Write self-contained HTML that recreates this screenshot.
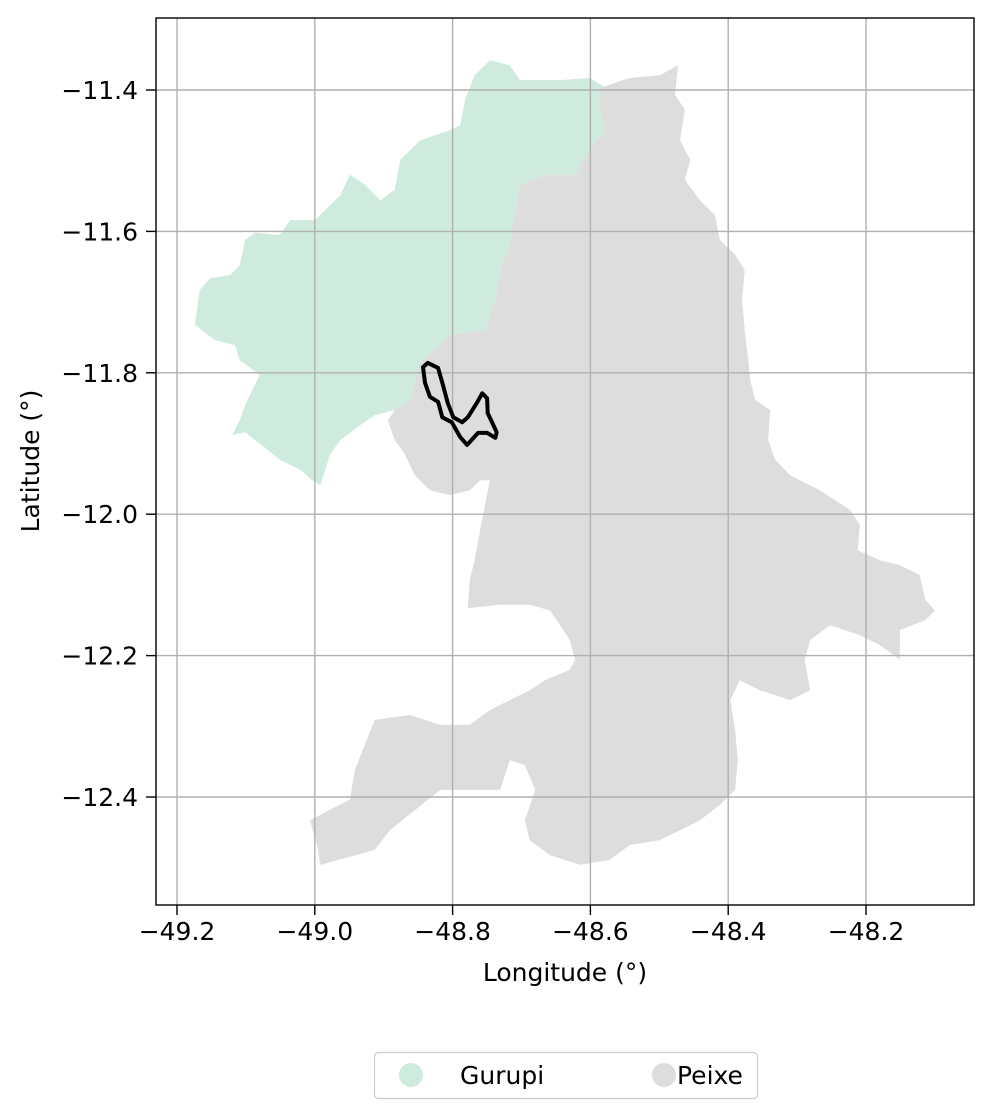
<!DOCTYPE html>
<html><head><meta charset="utf-8"><style>
html,body{margin:0;padding:0;background:#fff;}
svg{display:block;font-family:"DejaVu Sans","Liberation Sans",sans-serif;}
</style></head><body>
<svg id="chart" width="993" height="1119" viewBox="0 0 993 1119" xmlns="http://www.w3.org/2000/svg"></svg>
<script>
const xTicks=[-49.2,-49.0,-48.8,-48.6,-48.4,-48.2];
const yTicks=[-11.4,-11.6,-11.8,-12.0,-12.2,-12.4];
const xTickLabels=["\u221249.2","\u221249.0","\u221248.8","\u221248.6","\u221248.4","\u221248.2"];
const yTickLabels=["\u221211.4","\u221211.6","\u221211.8","\u221212.0","\u221212.2","\u221212.4"];
const regionNames=["Gurupi","Peixe"];
const gurupiLon=[-49.174,-49.167,-49.152,-49.123,-49.109,-49.101,-49.087,-49.051,-49.036,-49.0,-48.963,-48.949,-48.927,-48.905,-48.884,-48.876,-48.847,-48.804,-48.789,-48.782,-48.768,-48.746,-48.717,-48.702,-48.644,-48.601,-48.572,-48.586,-48.579,-48.601,-48.622,-48.666,-48.702,-48.709,-48.717,-48.731,-48.738,-48.753,-48.804,-48.818,-48.847,-48.855,-48.862,-48.884,-48.913,-48.934,-48.963,-48.978,-48.992,-49.004,-49.021,-49.051,-49.072,-49.087,-49.101,-49.120,-49.109,-49.101,-49.087,-49.080,-49.109,-49.116,-49.145];
const gurupiLat=[-11.732,-11.683,-11.666,-11.662,-11.648,-11.612,-11.602,-11.605,-11.584,-11.584,-11.549,-11.520,-11.534,-11.556,-11.541,-11.499,-11.471,-11.457,-11.450,-11.414,-11.379,-11.358,-11.365,-11.386,-11.386,-11.383,-11.400,-11.428,-11.457,-11.485,-11.520,-11.520,-11.534,-11.570,-11.619,-11.655,-11.697,-11.739,-11.747,-11.761,-11.785,-11.810,-11.838,-11.853,-11.860,-11.874,-11.895,-11.916,-11.959,-11.952,-11.937,-11.923,-11.906,-11.895,-11.884,-11.888,-11.867,-11.846,-11.817,-11.803,-11.782,-11.761,-11.754];
const peixeLon=[-48.586,-48.543,-48.499,-48.473,-48.477,-48.463,-48.470,-48.455,-48.463,-48.441,-48.419,-48.412,-48.390,-48.376,-48.380,-48.376,-48.371,-48.368,-48.361,-48.339,-48.342,-48.332,-48.310,-48.267,-48.245,-48.223,-48.209,-48.212,-48.180,-48.151,-48.122,-48.114,-48.100,-48.114,-48.151,-48.151,-48.180,-48.209,-48.252,-48.281,-48.289,-48.281,-48.310,-48.354,-48.383,-48.397,-48.390,-48.386,-48.390,-48.412,-48.441,-48.470,-48.499,-48.543,-48.572,-48.615,-48.659,-48.688,-48.695,-48.680,-48.695,-48.717,-48.731,-48.818,-48.891,-48.913,-48.992,-48.995,-49.007,-48.978,-48.949,-48.942,-48.913,-48.862,-48.818,-48.775,-48.746,-48.717,-48.688,-48.666,-48.630,-48.622,-48.630,-48.644,-48.659,-48.688,-48.731,-48.778,-48.775,-48.768,-48.760,-48.746,-48.760,-48.775,-48.804,-48.833,-48.855,-48.869,-48.884,-48.894,-48.884,-48.862,-48.855,-48.847,-48.818,-48.804,-48.753,-48.738,-48.731,-48.717,-48.709,-48.702,-48.666,-48.622,-48.601,-48.579,-48.586];
const peixeLat=[-11.397,-11.383,-11.379,-11.365,-11.407,-11.428,-11.471,-11.499,-11.527,-11.556,-11.577,-11.612,-11.633,-11.655,-11.697,-11.739,-11.782,-11.810,-11.838,-11.853,-11.895,-11.923,-11.945,-11.966,-11.980,-11.994,-12.015,-12.051,-12.065,-12.072,-12.086,-12.121,-12.136,-12.150,-12.164,-12.206,-12.185,-12.171,-12.157,-12.178,-12.206,-12.249,-12.263,-12.249,-12.235,-12.263,-12.305,-12.348,-12.390,-12.411,-12.433,-12.447,-12.461,-12.468,-12.489,-12.496,-12.482,-12.461,-12.433,-12.390,-12.355,-12.348,-12.390,-12.390,-12.447,-12.475,-12.496,-12.475,-12.433,-12.418,-12.404,-12.362,-12.291,-12.284,-12.298,-12.298,-12.277,-12.263,-12.249,-12.235,-12.220,-12.206,-12.178,-12.157,-12.136,-12.128,-12.128,-12.133,-12.093,-12.065,-12.022,-11.952,-11.952,-11.966,-11.973,-11.966,-11.945,-11.916,-11.895,-11.867,-11.853,-11.838,-11.810,-11.785,-11.761,-11.747,-11.739,-11.697,-11.655,-11.619,-11.570,-11.534,-11.520,-11.520,-11.485,-11.457,-11.428];
const siteLon=[-48.836,-48.821,-48.815,-48.807,-48.799,-48.786,-48.778,-48.765,-48.757,-48.750,-48.749,-48.736,-48.738,-48.750,-48.763,-48.779,-48.789,-48.801,-48.815,-48.821,-48.833,-48.840,-48.843];
const siteLat=[-11.786,-11.793,-11.814,-11.843,-11.863,-11.870,-11.863,-11.843,-11.829,-11.836,-11.857,-11.884,-11.892,-11.885,-11.885,-11.902,-11.891,-11.870,-11.863,-11.841,-11.834,-11.814,-11.792];

const L=156,R=974,T=18,B=905;
const xs=v=>177+(v+49.2)/0.2*137.8;
const ys=v=>90+(-11.4-v)/0.2*141.4;
const svg=document.getElementById('chart');
const NS='http://www.w3.org/2000/svg';
function mk(tag,attrs,parent){const e=document.createElementNS(NS,tag);for(const k in attrs)e.setAttribute(k,attrs[k]);(parent||svg).appendChild(e);return e;}
function pts(lo,la){return lo.map((v,i)=>xs(v).toFixed(1)+','+ys(la[i]).toFixed(1)).join(' ');}

const clip=mk('clipPath',{id:'ax'});mk('rect',{x:L,y:T,width:R-L,height:B-T},clip);
const g=mk('g',{'clip-path':'url(#ax)'});
const pg=mk('polygon',{points:pts(gurupiLon,gurupiLat),fill:'#cfebde'},g);


const pp=mk('polygon',{points:pts(peixeLon,peixeLat),fill:'#dddddd'},g);


xTicks.forEach(t=>{const l=mk('line',{x1:xs(t),x2:xs(t),y1:T,y2:B,stroke:'#b0b0b0','stroke-width':1.4},g);

});
yTicks.forEach(t=>{const l=mk('line',{x1:L,x2:R,y1:ys(t),y2:ys(t),stroke:'#b0b0b0','stroke-width':1.4},g);

});
const ps=mk('polygon',{points:pts(siteLon,siteLat),fill:'none',stroke:'#000','stroke-width':4,'stroke-linejoin':'round'},g);



const fr=mk('rect',{x:L,y:T,width:R-L,height:B-T,fill:'none',stroke:'#000','stroke-width':1.4});


xTicks.forEach((t,i)=>{mk('line',{x1:xs(t),x2:xs(t),y1:B,y2:B+10,stroke:'#000','stroke-width':1.4});
const tx=mk('text',{x:xs(t),y:B+35,'text-anchor':'middle','font-size':25,fill:'#000'});tx.textContent=xTickLabels[i];

});
yTicks.forEach((t,i)=>{mk('line',{x1:L-10,x2:L,y1:ys(t),y2:ys(t),stroke:'#000','stroke-width':1.4});
const tx=mk('text',{x:L-18,y:ys(t)+9,'text-anchor':'end','font-size':25,fill:'#000'});tx.textContent=yTickLabels[i];

});
const xt=mk('text',{x:565,y:981,'text-anchor':'middle','font-size':25});xt.textContent='Longitude (°)';


const yt=mk('text',{x:39,y:461,'text-anchor':'middle','font-size':25,transform:'rotate(-90 39 461)'});yt.textContent='Latitude (°)';



const lg=mk('g',{});


mk('rect',{x:374.5,y:1052.5,width:383,height:46,rx:4,fill:'#fff',stroke:'#ccc','stroke-width':1.2},lg);
const colors=['#cfebde','#dddddd'];const cx=[411,664];const tx=[460,677];
regionNames.forEach((n,i)=>{const c=mk('circle',{cx:cx[i],cy:1075,r:12,fill:colors[i]},lg);


const t=mk('text',{x:tx[i],y:1084,'font-size':25},lg);t.textContent=n;

});
</script>
</body></html>
